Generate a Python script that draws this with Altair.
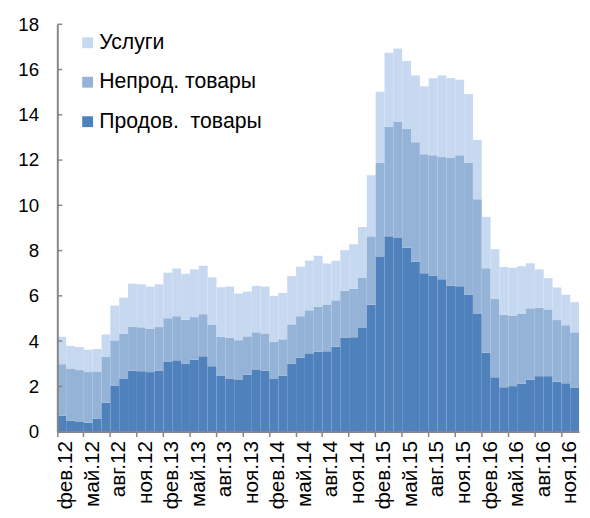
import altair as alt
import pandas as pd

months = [
    "фев.12", "мар.12", "апр.12", "май.12", "июн.12", "июл.12", "авг.12", "сен.12", "окт.12", "ноя.12", "дек.12",
    "янв.13", "фев.13", "мар.13", "апр.13", "май.13", "июн.13", "июл.13", "авг.13", "сен.13", "окт.13", "ноя.13", "дек.13",
    "янв.14", "фев.14", "мар.14", "апр.14", "май.14", "июн.14", "июл.14", "авг.14", "сен.14", "окт.14", "ноя.14", "дек.14",
    "янв.15", "фев.15", "мар.15", "апр.15", "май.15", "июн.15", "июл.15", "авг.15", "сен.15", "окт.15", "ноя.15", "дек.15",
    "янв.16", "фев.16", "мар.16", "апр.16", "май.16", "июн.16", "июл.16", "авг.16", "сен.16", "окт.16", "ноя.16", "дек.16",
]

tick_labels = [
    "фев.12", "май.12", "авг.12", "ноя.12", "фев.13", "май.13", "авг.13", "ноя.13",
    "фев.14", "май.14", "авг.14", "ноя.14", "фев.15", "май.15", "авг.15", "ноя.15",
    "фев.16", "май.16", "авг.16", "ноя.16",
]

prod = [
    0.70, 0.49, 0.45, 0.39, 0.58, 1.28, 2.02, 2.35, 2.69, 2.67, 2.63,
    2.70, 3.10, 3.15, 3.01, 3.18, 3.33, 2.89, 2.46, 2.35, 2.28, 2.52, 2.75,
    2.69, 2.35, 2.47, 3.01, 3.27, 3.46, 3.53, 3.55, 3.75, 4.14, 4.17, 4.58,
    5.61, 7.72, 8.63, 8.56, 8.12, 7.51, 7.00, 6.90, 6.73, 6.45, 6.42, 6.06,
    5.20, 3.49, 2.40, 1.96, 2.01, 2.11, 2.30, 2.45, 2.45, 2.21, 2.14, 1.95,
]

neprod = [
    2.28, 2.30, 2.27, 2.24, 2.08, 2.02, 2.01, 1.97, 1.95, 1.94, 1.92,
    1.92, 1.91, 1.95, 1.93, 1.88, 1.86, 1.82, 1.73, 1.79, 1.76, 1.69, 1.64,
    1.65, 1.62, 1.61, 1.73, 1.83, 1.90, 1.99, 2.07, 2.05, 2.08, 2.15, 2.23,
    3.02, 4.15, 4.84, 5.14, 5.26, 5.28, 5.26, 5.31, 5.40, 5.65, 5.79, 5.81,
    5.07, 3.73, 3.48, 3.20, 3.10, 3.09, 3.15, 3.03, 2.95, 2.72, 2.56, 2.44,
]

usl = [
    1.21, 1.00, 1.02, 0.99, 0.99, 0.99, 1.54, 1.60, 1.90, 1.90, 1.86,
    1.89, 2.01, 2.11, 2.04, 2.11, 2.14, 2.11, 2.19, 2.27, 2.06, 1.98, 2.05,
    2.07, 2.03, 2.05, 2.13, 2.19, 2.20, 2.25, 1.81, 1.75, 1.80, 1.96, 2.23,
    2.70, 3.15, 3.27, 3.23, 3.00, 2.95, 3.00, 3.41, 3.61, 3.52, 3.34, 3.05,
    2.62, 2.27, 2.18, 2.11, 2.13, 2.11, 1.99, 1.69, 1.38, 1.44, 1.35, 1.33,
]

stack_names = ["Продов.\u00a0 товары", "Непрод. товары", "Услуги"]
legend_order = ["Услуги", "Непрод. товары", "Продов.\u00a0 товары"]
legend_colors = ["#c6d9f1", "#95b3d7", "#4f81bd"]
y_ticks = [0, 2, 4, 6, 8, 10, 12, 14, 16, 18]

FONT = "Liberation Sans"
AXIS_COLOR = "#868686"

rows = []
for i, m in enumerate(months):
    for s, (name, vals) in enumerate(zip(stack_names, [prod, neprod, usl])):
        rows.append({"month": m, "series": name, "value": vals[i], "ord": s})
df = pd.DataFrame(rows)

y_axis = alt.Axis(values=y_ticks, title=None, grid=False, ticks=False,
                  domain=True, domainColor=AXIS_COLOR, domainWidth=2,
                  labelPadding=19, labelFontSize=19, zindex=2)
y_scale = alt.Scale(domain=[0, 18], nice=False)

bars = alt.Chart(df).mark_bar().encode(
    x=alt.X(
        "month:O",
        sort=months,
        scale=alt.Scale(paddingInner=0, paddingOuter=0),
        axis=alt.Axis(
            values=tick_labels,
            title=None,
            labelAngle=270,
            labelAlign="right",
            labelBaseline="middle",
            bandPosition=0,
            labelOffset=4.5,
            ticks=True,
            tickSize=5,
            tickColor=AXIS_COLOR,
            tickWidth=1.5,
            domain=True,
            domainColor=AXIS_COLOR,
            domainWidth=2,
            labelPadding=4,
            labelFontSize=21,
            zindex=2,
        ),
    ),
    y=alt.Y("value:Q", stack="zero", scale=y_scale, axis=y_axis),
    color=alt.Color(
        "series:N",
        scale=alt.Scale(domain=legend_order, range=legend_colors),
        legend=alt.Legend(
            title=None,
            orient="none",
            legendX=20,
            legendY=8,
            symbolType="square",
            symbolSize=121,
            symbolStrokeWidth=0,
            labelFontSize=21.5,
            labelFont=FONT,
            labelColor="black",
            labelLimit=0,
            rowPadding=17,
            labelOffset=1,
            padding=0,
        ),
    ),
    order=alt.Order("ord:Q", sort="ascending"),
)

tick_df = pd.DataFrame({"v": y_ticks})
yticks = alt.Chart(tick_df).mark_rule(color=AXIS_COLOR, strokeWidth=1.5).encode(
    y=alt.Y("v:Q", scale=y_scale, axis=y_axis),
    x=alt.value(0),
    x2=alt.value(5),
)

chart = alt.layer(bars, yticks).properties(
    width=529,
    height=413,
    padding={"left": 9, "top": 4, "right": 2, "bottom": 0},
).configure_view(stroke=None).configure_axis(
    labelColor="black",
    labelFont=FONT,
)

chart.save("out.html", embed_options={"renderer": "svg", "actions": False})
